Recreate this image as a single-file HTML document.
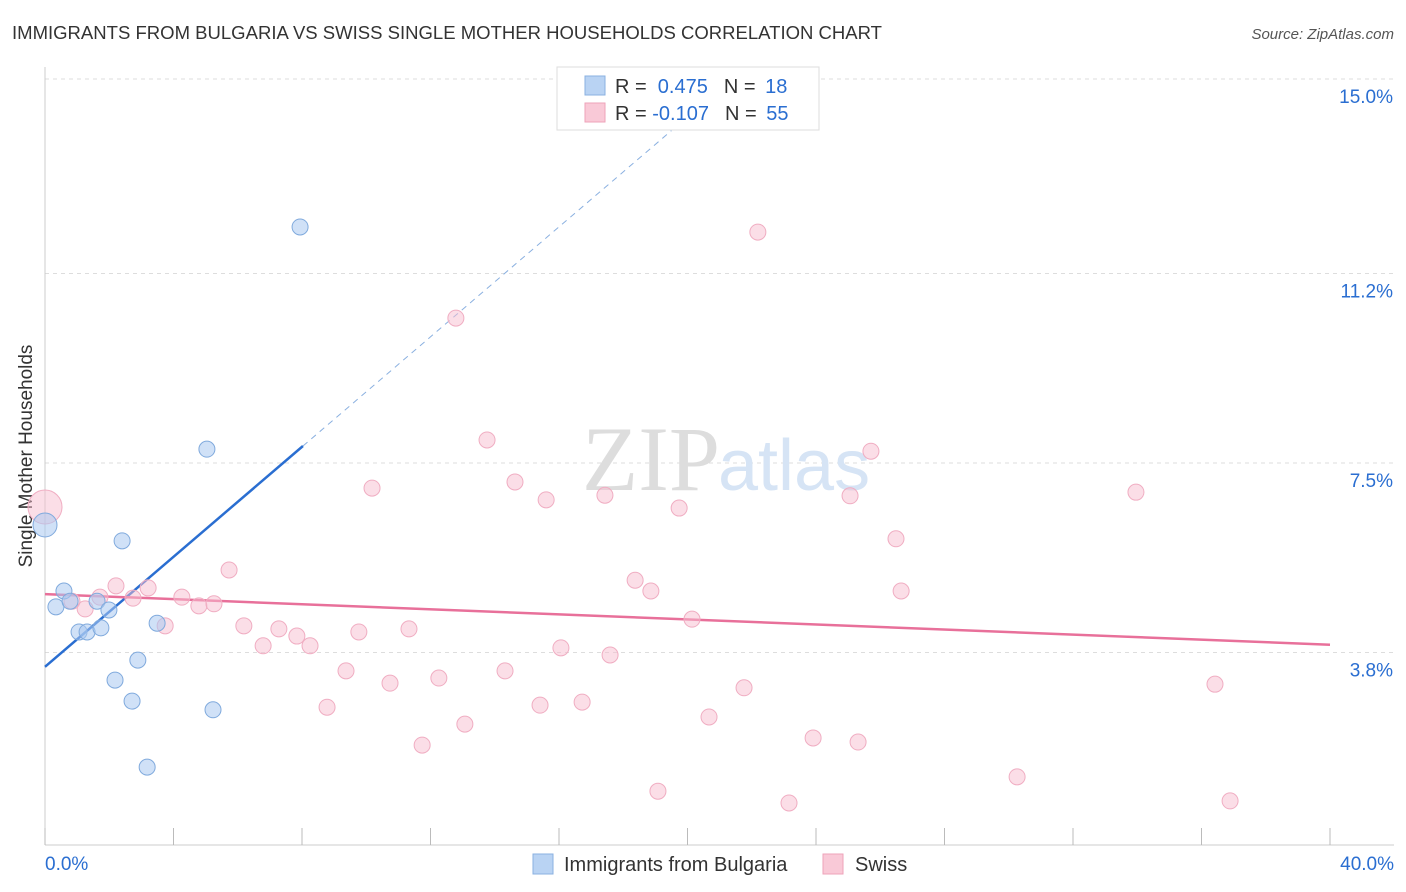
<!DOCTYPE html>
<html><head><meta charset="utf-8"><style>
body{margin:0;background:#fff;font-family:"Liberation Sans",sans-serif;}
svg{display:block}
</style></head><body>
<svg id="chart" width="1406" height="892" font-family="Liberation Sans, sans-serif">
<text x="12" y="39" font-size="18" fill="#333" textLength="870" lengthAdjust="spacingAndGlyphs">IMMIGRANTS FROM BULGARIA VS SWISS SINGLE MOTHER HOUSEHOLDS CORRELATION CHART</text>
<text x="1394" y="39" font-size="15" fill="#555" font-style="italic" text-anchor="end">Source: ZipAtlas.com</text>
<g id="grid"></g>
<text x="720" y="490" font-size="92" fill="#ddd" text-anchor="end" font-family="Liberation Serif, serif">ZIP</text>
<text x="718" y="490" font-size="72" fill="#d6e4f5">atlas</text>
<text x="32" y="456" font-size="19" fill="#333" text-anchor="middle" transform="rotate(-90 32 456)">Single Mother Households</text>
<g id="lines"></g>
<g id="points"></g>
<g>
<rect x="557" y="67" width="262" height="63" fill="#fff" stroke="#ddd"/>
<rect x="585" y="76" width="20" height="19" fill="#b9d3f3" stroke="#8ab0e0"/>
<rect x="585" y="103" width="20" height="19" fill="#f9c9d7" stroke="#eea3ba"/>
<text x="615" y="93" font-size="20" fill="#333">R = <tspan fill="#2a6ed1">&#160;0.475</tspan><tspan dx="16">N = </tspan><tspan fill="#2a6ed1" dx="4">18</tspan></text>
<text x="615" y="120" font-size="20" fill="#333">R = <tspan fill="#2a6ed1">-0.107</tspan><tspan dx="16">N = </tspan><tspan fill="#2a6ed1" dx="4">55</tspan></text>
</g>
<g>
<rect x="533" y="854" width="20" height="20" fill="#b9d3f3" stroke="#8ab0e0"/>
<text x="564" y="871" font-size="20" fill="#333">Immigrants from Bulgaria</text>
<rect x="823" y="854" width="20" height="20" fill="#f9c9d7" stroke="#eea3ba"/>
<text x="855" y="871" font-size="20" fill="#333">Swiss</text>
</g>
</svg>
<script>
const yTicks=[3.8,7.5,11.2,15.0];
const yTickLabels=["3.8%","7.5%","11.2%","15.0%"];
const xTickLabels=["0.0%","40.0%"];
const blueX=[0,0.34,0.59,0.78,1.06,1.31,1.62,1.74,1.99,2.40,2.18,2.71,2.89,3.18,3.49,5.04,5.23,7.94];
const blueY=[6.29,4.69,5.0,4.8,4.2,4.2,4.8,4.28,4.63,5.98,3.26,2.85,3.65,1.56,4.37,7.77,2.68,12.11];
const pinkX=[0,0.84,1.25,1.71,2.21,2.74,3.21,3.74,4.26,4.79,5.26,5.73,6.19,6.79,7.28,7.84,8.25,8.78,9.37,9.77,10.18,10.74,11.33,11.74,12.26,12.79,13.07,13.76,14.32,14.63,15.41,15.60,16.06,16.72,17.43,17.59,18.37,18.86,19.08,19.74,20.14,20.67,21.76,22.19,23.16,23.91,25.06,25.31,25.71,26.49,26.65,30.26,33.96,36.42,36.89];
const pinkY=[6.64,4.80,4.65,4.88,5.10,4.86,5.06,4.32,4.88,4.71,4.75,5.41,4.32,3.93,4.26,4.12,3.93,2.73,3.44,4.20,7.01,3.20,4.26,1.99,3.30,10.33,2.40,7.95,3.44,7.13,2.77,6.78,3.89,2.83,6.87,3.75,5.21,5.00,1.09,6.62,4.45,2.54,3.11,12.01,0.86,2.13,6.86,2.05,7.73,6.02,5.00,1.37,6.93,3.18,0.90];
const blueTrend=[3.52,0.537];
const pinkTrend=[4.94,-0.02475];
const NS="http://www.w3.org/2000/svg";
const X=v=>45+v*32.125, Y=v=>79+(15-v)*51.2;
function mk(t,a,p){const e=document.createElementNS(NS,t);for(const k in a)e.setAttribute(k,a[k]);p.appendChild(e);return e;}
const grid=document.getElementById('grid');
yTicks.forEach((t,i)=>{
 const l=mk('line',{x1:45,x2:1394,y1:Y(t),y2:Y(t),stroke:'#ddd','stroke-dasharray':'4,4'},grid);
 
 
 const tx=mk('text',{x:1393,y:Y(t)+24,'font-size':19,fill:'#2a6ed1','text-anchor':'end'},grid);
 tx.textContent=yTickLabels[i];
 
 
});
const ax=mk('line',{x1:45,x2:1394,y1:845,y2:845,stroke:'#ccc'},grid);


const ay=mk('line',{x1:45,x2:45,y1:67,y2:845,stroke:'#ccc'},grid);


for(let i=0;i<=10;i++){const t=mk('line',{x1:X(i*4),x2:X(i*4),y1:828,y2:845,stroke:'#bbb'},grid);
 
 }
[[0,'start',45],[40,'end',1394]].forEach((d,i)=>{const t=mk('text',{x:d[2],y:870,'font-size':19,fill:'#2a6ed1','text-anchor':d[1]},grid);t.textContent=xTickLabels[i];
 
 });
const lines=document.getElementById('lines');
const bx1=8.03;
let l1=mk('line',{x1:X(0),y1:Y(blueTrend[0]),x2:X(bx1),y2:Y(blueTrend[0]+blueTrend[1]*bx1),stroke:'#2a6ed1','stroke-width':2.5},lines);


const bx2=19.5;
let l2=mk('line',{x1:X(bx1),y1:Y(blueTrend[0]+blueTrend[1]*bx1),x2:X(bx2),y2:Y(blueTrend[0]+blueTrend[1]*bx2),stroke:'#8ab0e0','stroke-width':1,'stroke-dasharray':'6,5'},lines);


let l3=mk('line',{x1:X(0),y1:Y(pinkTrend[0]),x2:X(40),y2:Y(pinkTrend[0]+pinkTrend[1]*40),stroke:'#e8709a','stroke-width':2.5},lines);


const pts=document.getElementById('points');
pinkX.forEach((x,i)=>{const c=mk('circle',{cx:X(x),cy:Y(pinkY[i]),r:i==0?17:8,fill:'rgba(248,190,208,0.5)',stroke:'#f0adc2','stroke-width':1},pts);
 
 });
blueX.forEach((x,i)=>{const c=mk('circle',{cx:X(x),cy:Y(blueY[i]),r:i==0?12:8,fill:'rgba(170,200,240,0.55)',stroke:'#80aadd','stroke-width':1},pts);
 
 });
</script>
</body></html>
